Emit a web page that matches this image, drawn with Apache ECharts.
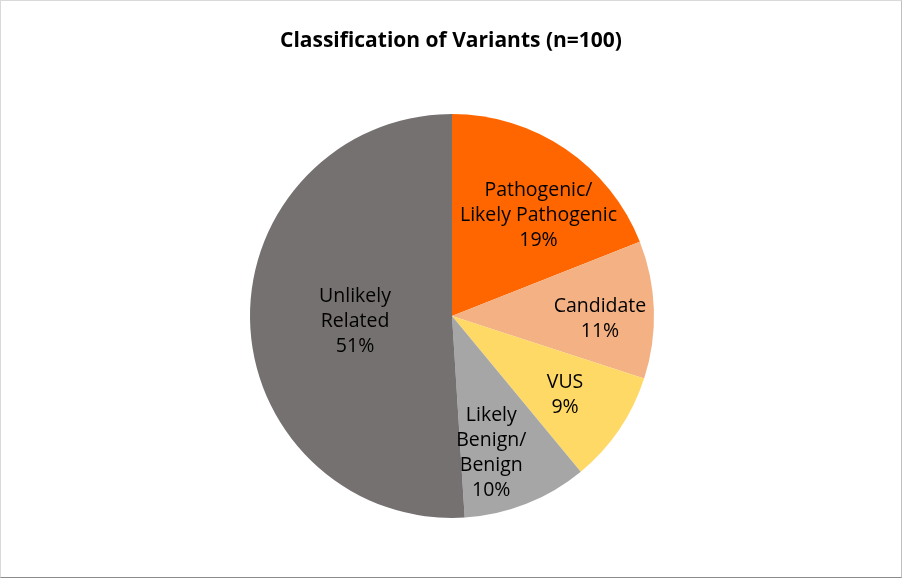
<!DOCTYPE html>
<html><head><meta charset="utf-8">
<script src="https://cdn.jsdelivr.net/npm/echarts@6/dist/echarts.min.js"></script>
<style>
html,body{margin:0;padding:0;background:#fff;}
#c{width:900px;height:576px;border:1px solid #d9d9d9;border-bottom-color:#8c8c8c;border-right-color:#bfbfbf;}
</style></head>
<body><div id="c"></div>
<script>
const categories = ['Pathogenic/\nLikely Pathogenic', 'Candidate', 'VUS', 'Likely\nBenign/\nBenign', 'Unlikely\nRelated'];
const values = [19, 11, 9, 10, 51];
const colors = ['#FF6600', '#F4B183', '#FFD966', '#A6A6A6', '#767171'];
const labelOffsets = [[28, -15], [44, 6], [27, 20], [1, 40], [7, 2]];

const chart = echarts.init(document.getElementById('c'));
chart.setOption({
  animation: false,
  title: {
    text: 'Classification of Variants (n=100)',
    left: 'center', top: 25,
    textStyle: {fontFamily: 'Open Sans', fontWeight: 'bold', fontSize: 21, color: '#000'}
  },
  series: [{
    type: 'pie',
    center: [451, 315],
    radius: 202,
    startAngle: 90,
    clockwise: true,
    data: categories.map((n, i) => ({name: n, value: values[i], itemStyle: {color: colors[i]}})),
    label: {
      position: 'inside',
      formatter: '{b}\n{c}%',
      fontFamily: 'Open Sans', fontSize: 19.5, lineHeight: 25, color: '#000', align: 'center'
    },
    labelLayout: function (p) {
      const o = labelOffsets[p.dataIndex];
      return {dx: o[0], dy: o[1]};
    },
    labelLine: {show: false},
    emphasis: {disabled: true}
  }]
});
</script></body></html>
